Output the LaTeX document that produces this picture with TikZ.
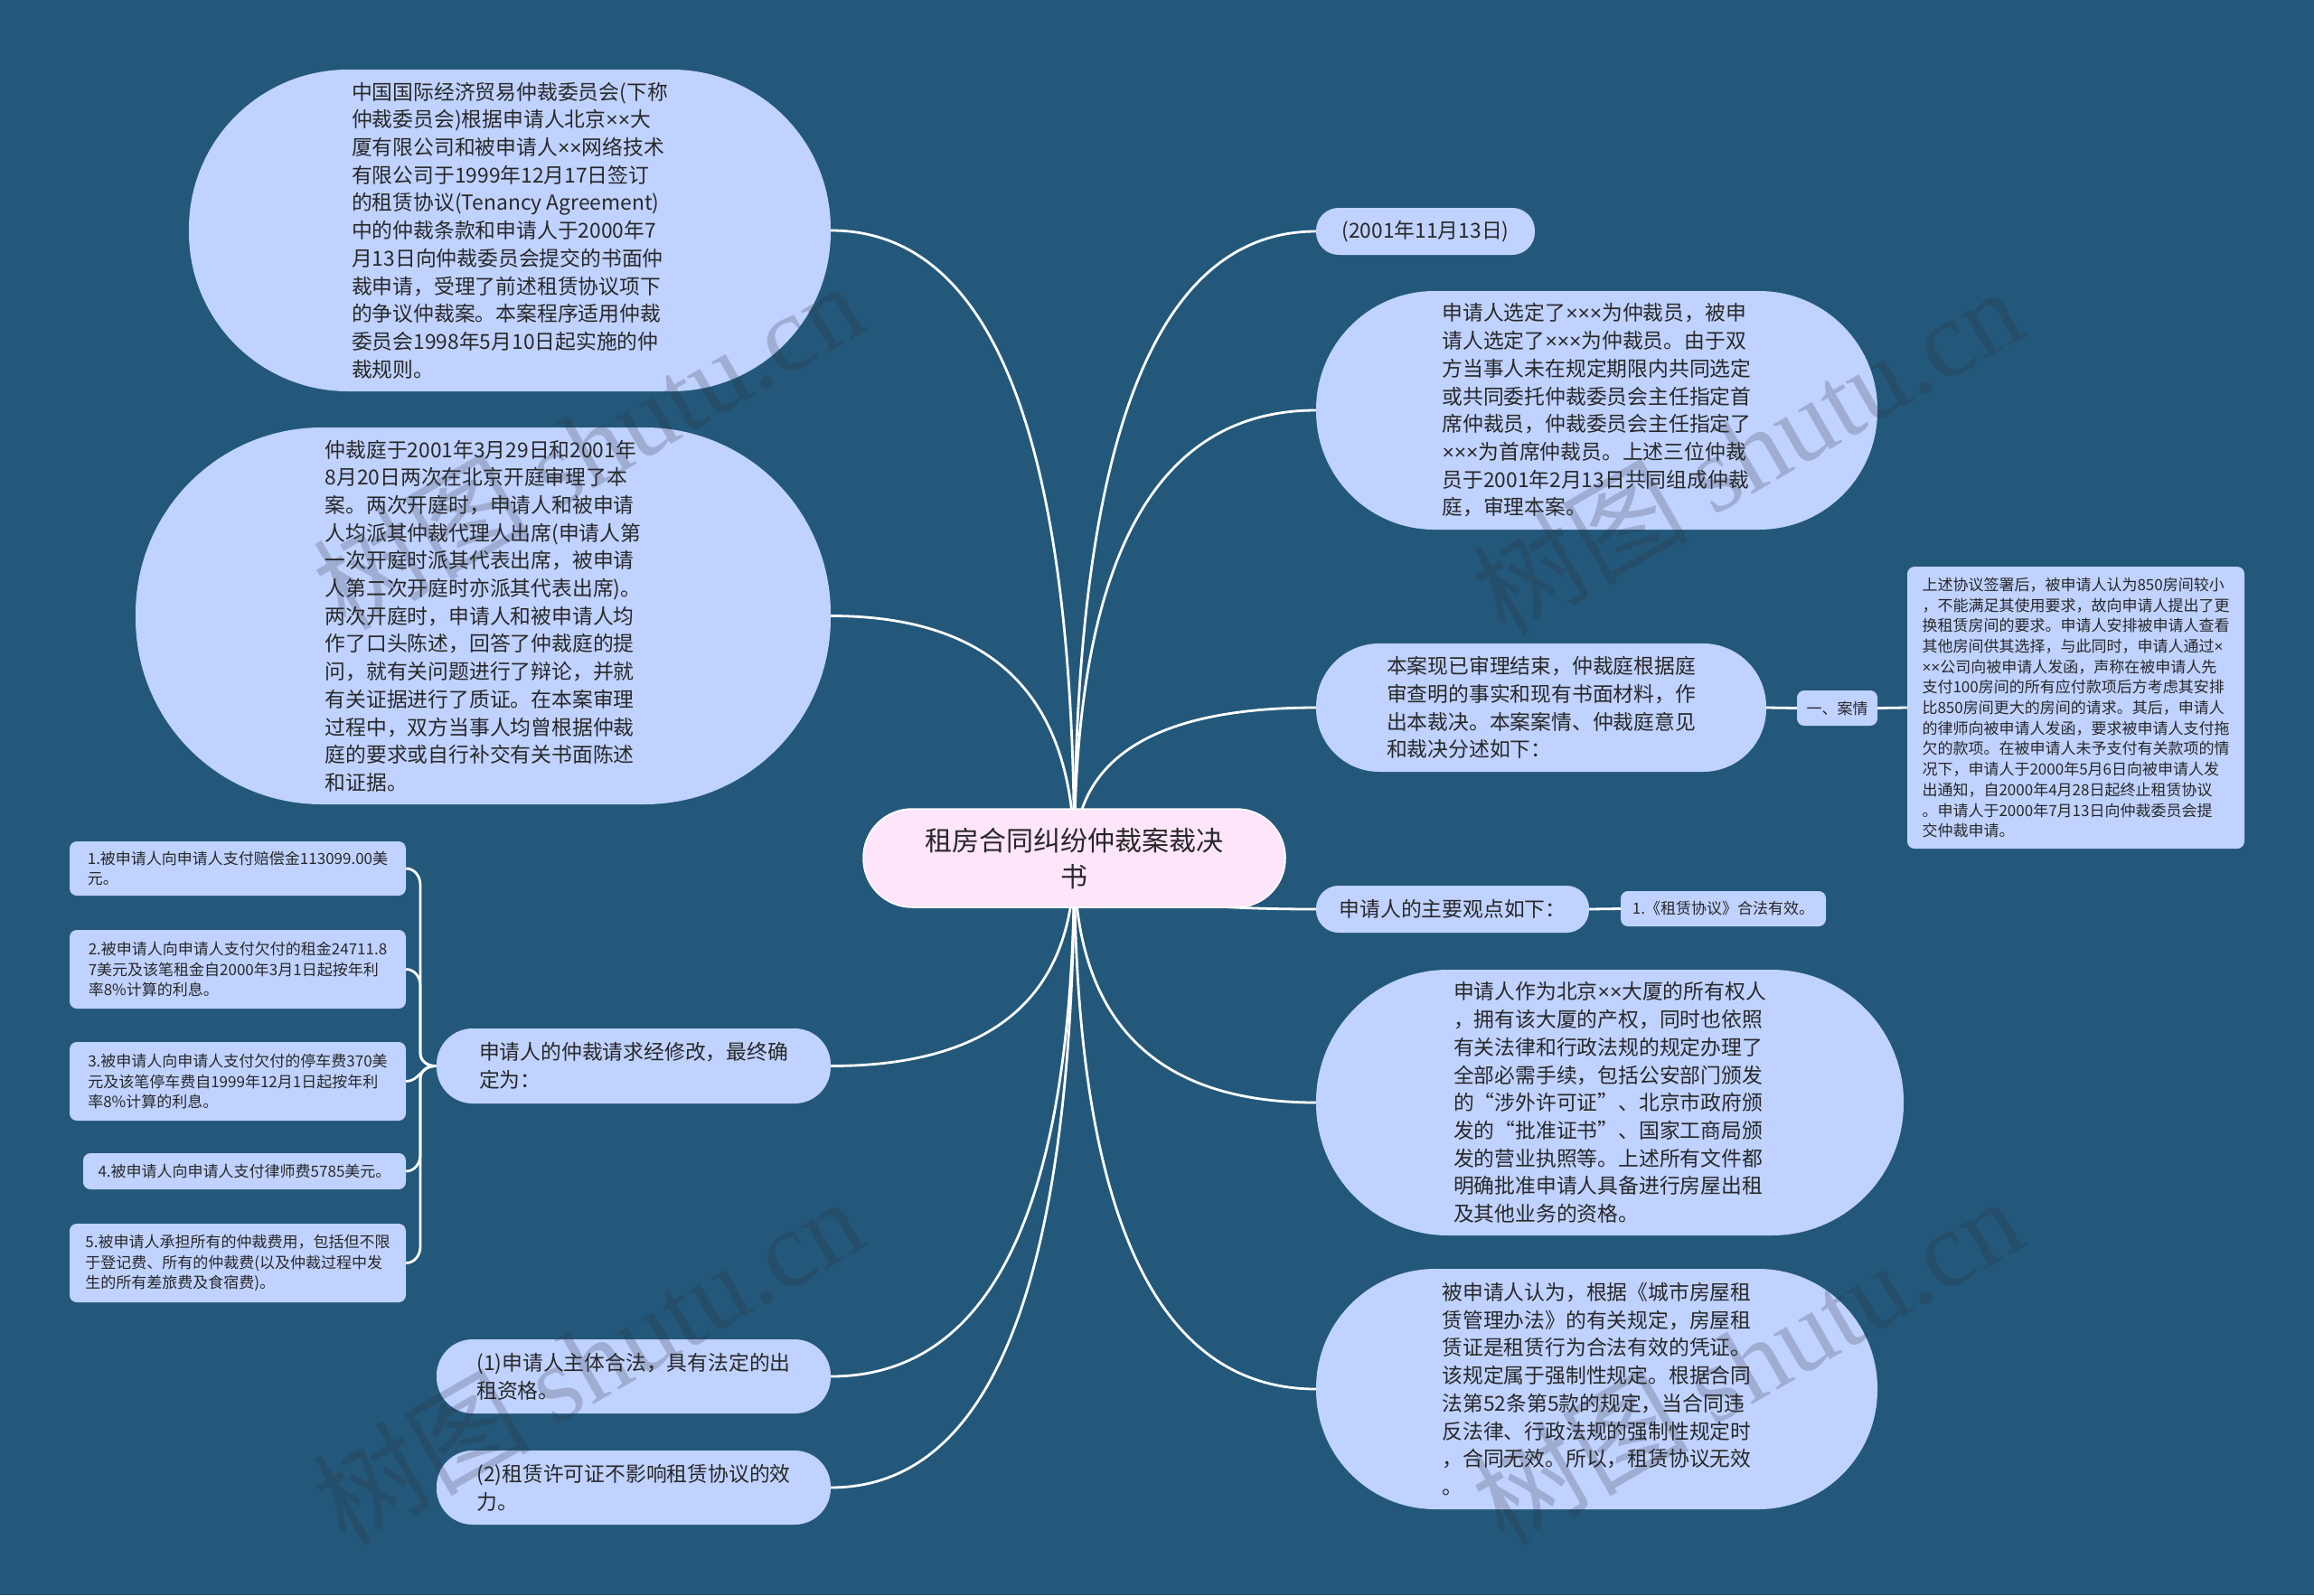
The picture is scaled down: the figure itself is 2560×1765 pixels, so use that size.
\documentclass[tikz,border=0pt]{standalone}
\usepackage{fontspec}
\setmainfont{Noto Sans CJK SC}
\newfontfamily\wmlatin{Liberation Serif}
\newfontfamily\xfont{Liberation Sans}
\newcommand{\tms}{{\xfont ×}}
\usetikzlibrary{calc}
\definecolor{bgc}{RGB}{35,88,122}
\definecolor{bubc}{RGB}{192,210,255}
\definecolor{pinkc}{RGB}{255,229,250}
\definecolor{txtc}{RGB}{40,40,40}
\definecolor{wmc}{RGB}{45,45,55}
\pgfdeclarelayer{bglayer}
\pgfdeclarelayer{toplayer}
\pgfsetlayers{bglayer,main,toplayer}
\begin{document}
\begin{tikzpicture}[x=1pt,y=1pt,
  conn/.style={draw=white,line width=2.8pt},
  bub/.style={fill=bubc,text=txtc,inner sep=0pt,align=left,font=\fontsize{22.8}{30.7}\selectfont},
  leafbox/.style={fill=bubc,text=txtc,inner sep=0pt,align=left,rounded corners=8pt,font=\fontsize{17}{22.7}\selectfont},
  wm/.style={text=wmc,text opacity=0.22,rotate=30,inner sep=0pt,font=\fontsize{120}{130}\selectfont},
]
\useasboundingbox (0,0) rectangle (2560,-1765);

% central node
\node[fill=pinkc,draw=white,line width=1.5pt,text=txtc,inner sep=0pt,align=center,
  minimum width=467pt,minimum height=109pt,rounded corners=54pt,
  font=\fontsize{30}{40}\selectfont] (ctr) at (1188.5,-949.5) {租房合同纠纷仲裁案裁决\\书};

% left bubbles
\node[bub,minimum width=710pt,minimum height=356pt,rounded corners=176pt] (A) at (564,-255) {中国国际经济贸易仲裁委员会(下称\\仲裁委员会)根据申请人北京\tms\tms 大\\厦有限公司和被申请人\tms\tms 网络技术\\有限公司于1999年12月17日签订\\的租赁协议(Tenancy Agreement)\\中的仲裁条款和申请人于2000年7\\月13日向仲裁委员会提交的书面仲\\裁申请，受理了前述租赁协议项下\\的争议仲裁案。本案程序适用仲裁\\委员会1998年5月10日起实施的仲\\裁规则。};

\node[bub,minimum width=769pt,minimum height=417pt,rounded corners=206pt] (B) at (534.5,-681.5) {仲裁庭于2001年3月29日和2001年\\8月20日两次在北京开庭审理了本\\案。两次开庭时，申请人和被申请\\人均派其仲裁代理人出席(申请人第\\一次开庭时派其代表出席，被申请\\人第二次开庭时亦派其代表出席)。\\两次开庭时，申请人和被申请人均\\作了口头陈述，回答了仲裁庭的提\\问，就有关问题进行了辩论，并就\\有关证据进行了质证。在本案审理\\过程中，双方当事人均曾根据仲裁\\庭的要求或自行补交有关书面陈述\\和证据。};

\node[bub,minimum width=436pt,minimum height=83pt,rounded corners=40pt] (C) at (701,-1179.5) {申请人的仲裁请求经修改，最终确\\定为：};
\node[bub,minimum width=436pt,minimum height=82pt,rounded corners=40pt] (D) at (701,-1523) {(1)申请人主体合法，具有法定的出\\租资格。};
\node[bub,minimum width=436pt,minimum height=82pt,rounded corners=40pt] (E) at (701,-1646) {(2)租赁许可证不影响租赁协议的效\\力。};

% left leaves
\node[leafbox,minimum width=372pt,minimum height=60pt] (L1) at (263,-961) {1.被申请人向申请人支付赔偿金113099.00美\\元。};
\node[leafbox,minimum width=372pt,minimum height=87pt] (L2) at (263,-1072.5) {2.被申请人向申请人支付欠付的租金24711.8\\7美元及该笔租金自2000年3月1日起按年利\\率8\%计算的利息。};
\node[leafbox,minimum width=372pt,minimum height=87pt] (L3) at (263,-1196.5) {3.被申请人向申请人支付欠付的停车费370美\\元及该笔停车费自1999年12月1日起按年利\\率8\%计算的利息。};
\node[leafbox,minimum width=357pt,minimum height=40pt] (L4) at (270.5,-1296) {4.被申请人向申请人支付律师费5785美元。};
\node[leafbox,minimum width=372pt,minimum height=87pt] (L5) at (263,-1397.5) {5.被申请人承担所有的仲裁费用，包括但不限\\于登记费、所有的仲裁费(以及仲裁过程中发\\生的所有差旅费及食宿费)。};

% right bubbles
\node[bub,minimum width=242pt,minimum height=52pt,rounded corners=25pt] (R1) at (1577,-256) {(2001年11月13日)};
\node[bub,minimum width=621pt,minimum height=264pt,rounded corners=131pt] (R2) at (1766.5,-454) {申请人选定了\tms\tms\tms 为仲裁员，被申\\请人选定了\tms\tms\tms 为仲裁员。由于双\\方当事人未在规定期限内共同选定\\或共同委托仲裁委员会主任指定首\\席仲裁员，仲裁委员会主任指定了\\\tms\tms\tms 为首席仲裁员。上述三位仲裁\\员于2001年2月13日共同组成仲裁\\庭，审理本案。};
\node[bub,minimum width=498pt,minimum height=142pt,rounded corners=70pt] (R3) at (1705,-783) {本案现已审理结束，仲裁庭根据庭\\审查明的事实和现有书面材料，作\\出本裁决。本案案情、仲裁庭意见\\和裁决分述如下：};
\node[bub,minimum width=302pt,minimum height=52pt,rounded corners=25pt] (R4) at (1607,-1006) {申请人的主要观点如下：};
\node[bub,minimum width=650pt,minimum height=294pt,rounded corners=146pt] (R5) at (1781,-1220) {申请人作为北京\tms\tms 大厦的所有权人\\，拥有该大厦的产权，同时也依照\\有关法律和行政法规的规定办理了\\全部必需手续，包括公安部门颁发\\的“涉外许可证”、北京市政府颁\\发的“批准证书”、国家工商局颁\\发的营业执照等。上述所有文件都\\明确批准申请人具备进行房屋出租\\及其他业务的资格。};
\node[bub,minimum width=621pt,minimum height=266pt,rounded corners=132pt] (R6) at (1766.5,-1537) {被申请人认为，根据《城市房屋租\\赁管理办法》的有关规定，房屋租\\赁证是租赁行为合法有效的凭证。\\该规定属于强制性规定。根据合同\\法第52条第5款的规定，当合同违\\反法律、行政法规的强制性规定时\\，合同无效。所以，租赁协议无效\\。};

% right leaves
\node[leafbox,minimum width=89pt,minimum height=39pt] (K) at (2032.5,-783.5) {一、案情};
\node[leafbox,minimum width=373pt,minimum height=312pt] (KD) at (2296.5,-783) {上述协议签署后，被申请人认为850房间较小\\，不能满足其使用要求，故向申请人提出了更\\换租赁房间的要求。申请人安排被申请人查看\\其他房间供其选择，与此同时，申请人通过\tms\\\tms\tms 公司向被申请人发函，声称在被申请人先\\支付100房间的所有应付款项后方考虑其安排\\比850房间更大的房间的请求。其后，申请人\\的律师向被申请人发函，要求被申请人支付拖\\欠的款项。在被申请人未予支付有关款项的情\\况下，申请人于2000年5月6日向被申请人发\\出通知，自2000年4月28日起终止租赁协议\\。申请人于2000年7月13日向仲裁委员会提\\交仲裁申请。};
\node[leafbox,minimum width=227pt,minimum height=39pt] (P1) at (1906.5,-1005.5) {1.《租赁协议》合法有效。};

\begin{pgfonlayer}{bglayer}
  \fill[bgc] (0,0) rectangle (2560,-1765);
  \foreach \n in {A,B,C,D,E}{
    \draw[conn] (ctr.center) .. controls ($(ctr.center)!0.6667!(ctr.center|-\n.east)$) and ($(\n.east)!0.6667!(ctr.center|-\n.east)$) .. (\n.east);
  }
  \foreach \n in {R1,R2,R3,R4,R5,R6}{
    \draw[conn] (ctr.center) .. controls ($(ctr.center)!0.6667!(ctr.center|-\n.west)$) and ($(\n.west)!0.6667!(ctr.center|-\n.west)$) .. (\n.west);
  }
  \coordinate (sp) at (465,-1179.5);
  \foreach \n in {L1,L2}{
    \draw[conn] (\n.east) to[out=0,in=90] ($(sp|-\n.east)+(0,-18)$) -- ($(sp)+(0,14)$) to[out=-90,in=180] ($(sp)+(16,0)$) -- (C.west);
  }
  \draw[conn] (L3.east) to[out=0,in=180] ($(sp)+(16,0)$) -- (C.west);
  \foreach \n in {L4,L5}{
    \draw[conn] (\n.east) to[out=0,in=-90] ($(sp|-\n.east)+(0,18)$) -- ($(sp)+(0,-14)$) to[out=90,in=180] ($(sp)+(16,0)$) -- (C.west);
  }
  \draw[conn] (R3.east) -- (K.west);
  \draw[conn] (K.east) -- (KD.west);
  \draw[conn] (R4.east) -- (P1.west);
\end{pgfonlayer}

\begin{pgfonlayer}{toplayer}
  \node[wm] (w1) at (650,-492) {树图 {\wmlatin shutu.cn}};
  \node[wm] (w2) at (1932,-498) {树图 {\wmlatin shutu.cn}};
  \node[wm] (w3) at (650,-1505) {树图 {\wmlatin shutu.cn}};
  \node[wm] (w4) at (1932,-1505) {树图 {\wmlatin shutu.cn}};
\end{pgfonlayer}
\end{tikzpicture}
\end{document}
